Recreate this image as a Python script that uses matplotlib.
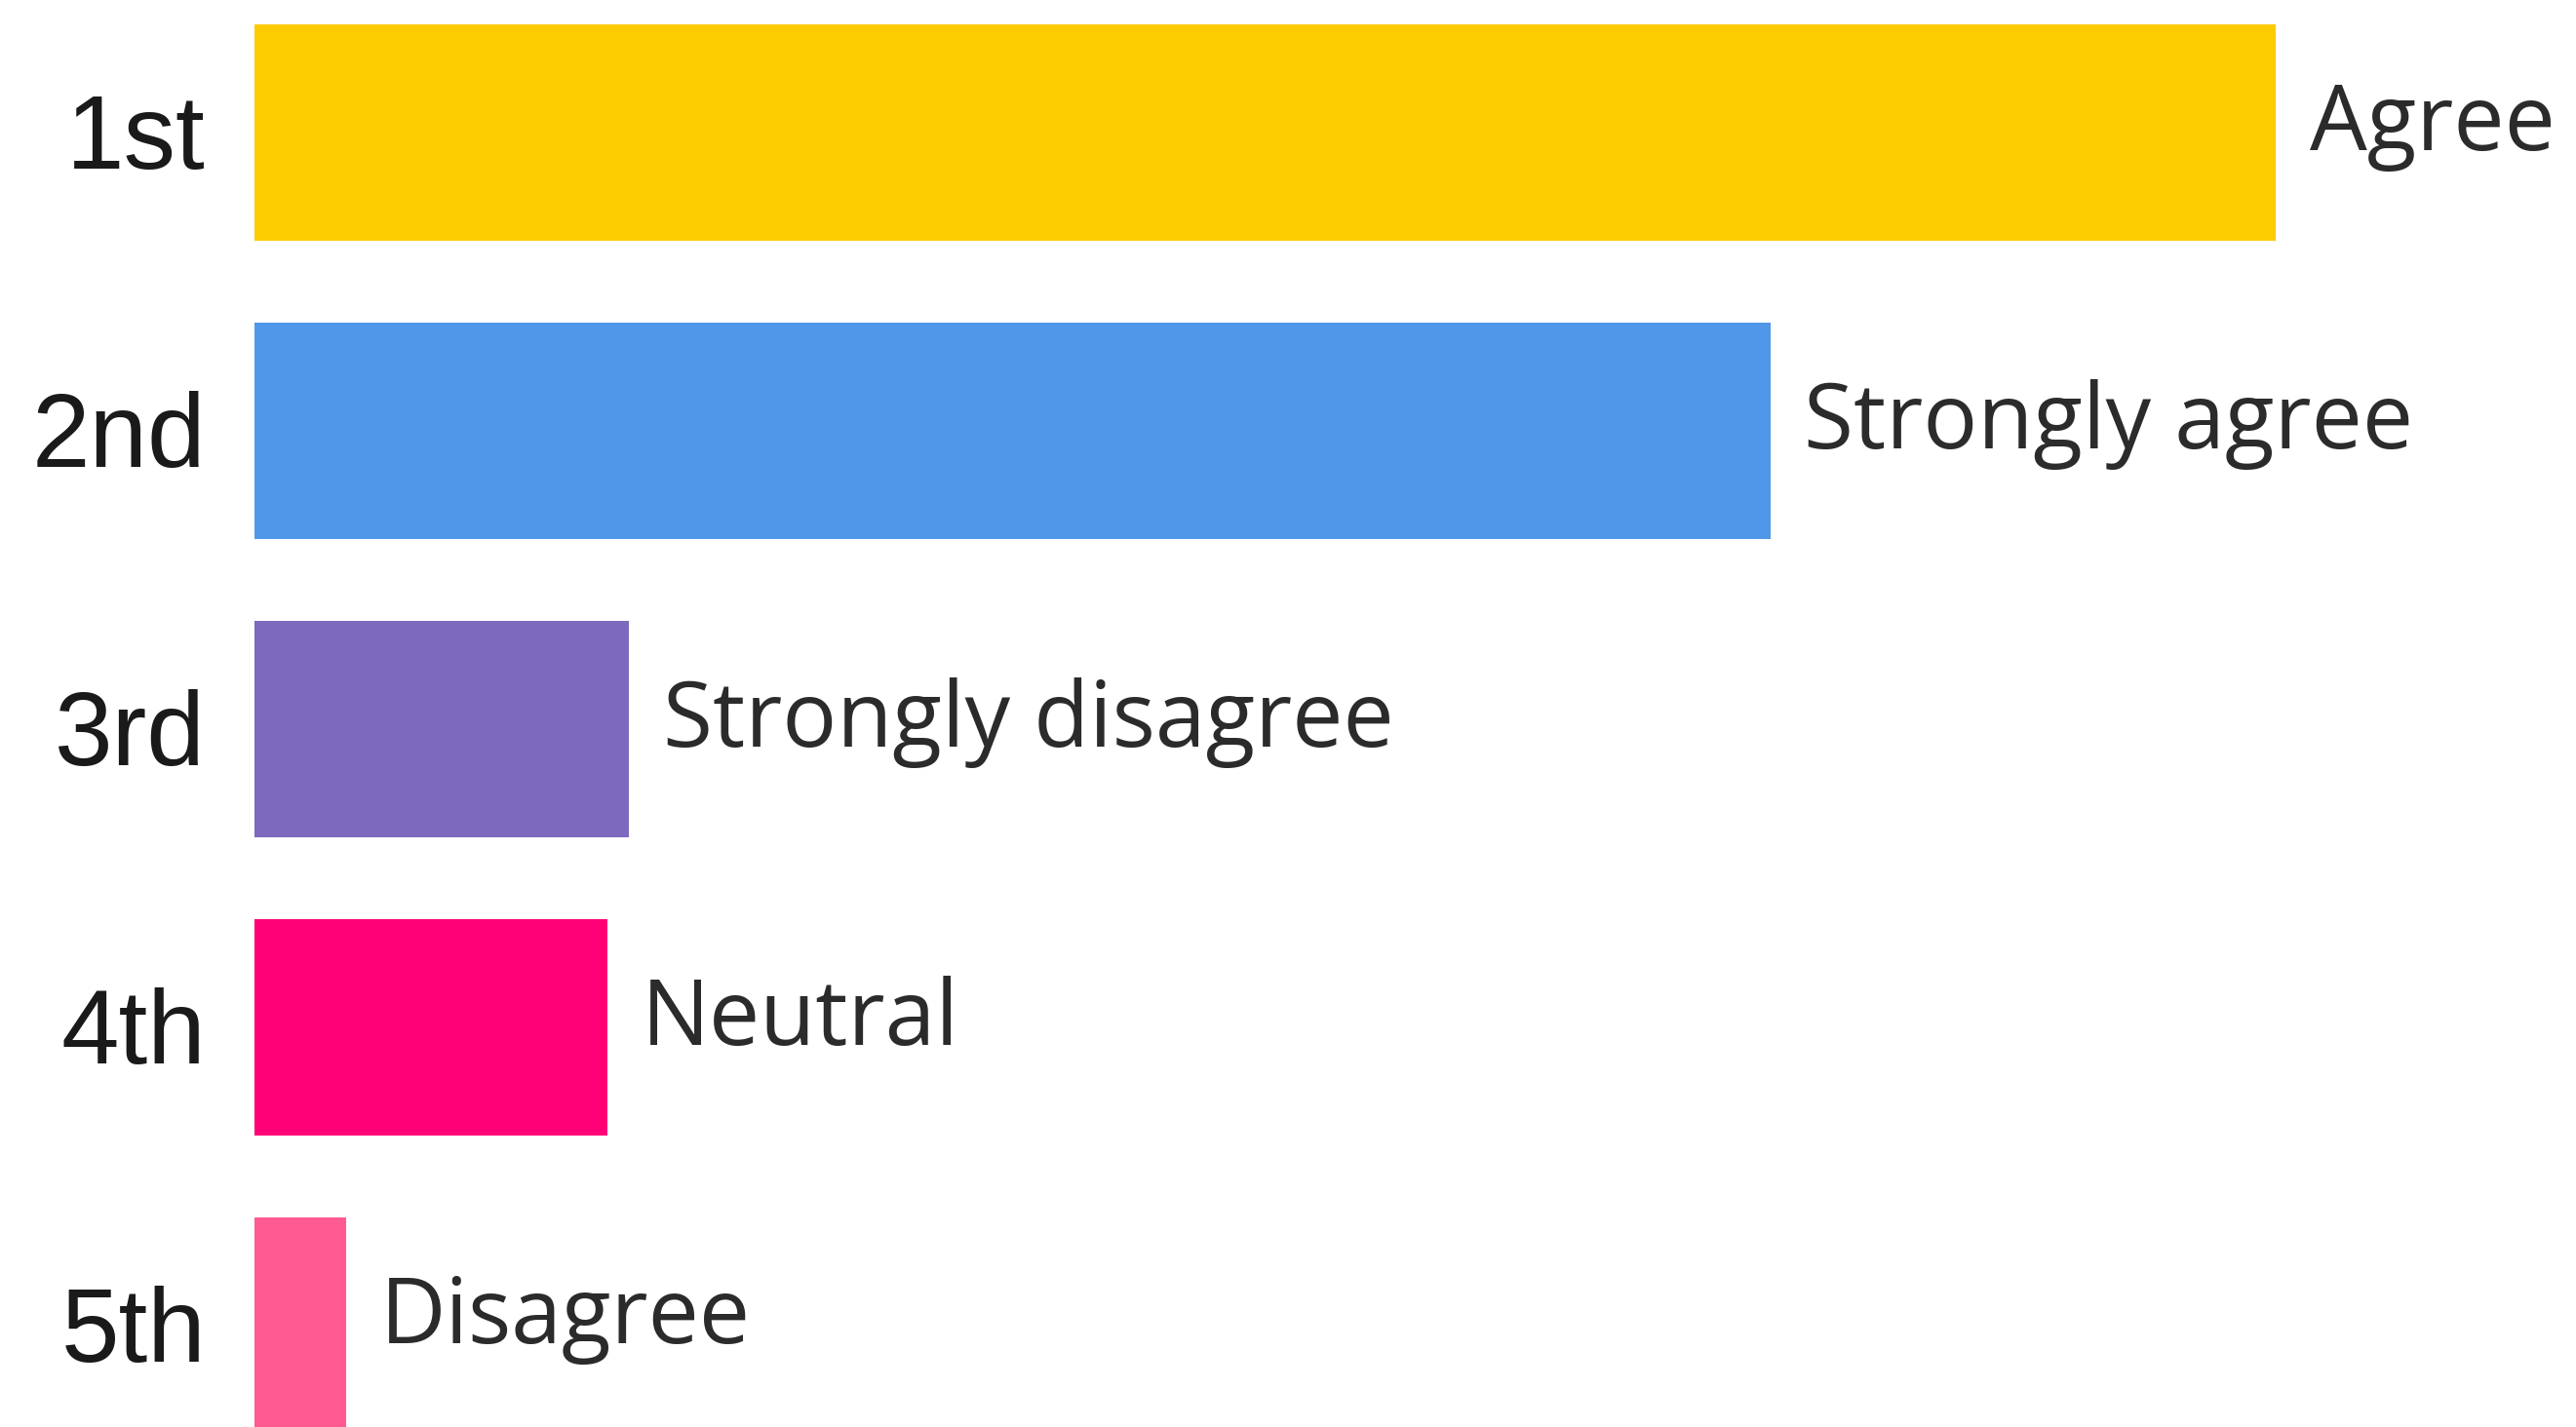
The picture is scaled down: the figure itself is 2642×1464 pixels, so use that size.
import numpy as np
import matplotlib.pyplot as plt

ranks = ['1st', '2nd', '3rd', '4th', '5th']
answers = ['Agree', 'Strongly agree', 'Strongly disagree', 'Neutral', 'Disagree']
shares = [46.4, 34.8, 8.6, 8.1, 2.1]
colors = ['#FCCB00', '#5097EA', '#7D69BD', '#FF0077', '#FF5A92']

W, H, DPI = 2642, 1464, 100
fig = plt.figure(figsize=(W / DPI, H / DPI), dpi=DPI)
fig.patch.set_facecolor('white')

# axes starts where bars start, spans to the right edge
left_px = 261
ax = fig.add_axes([left_px / W, 0, 1 - left_px / W, 1])

y = np.arange(len(ranks))
ax.barh(y, shares, height=0.725, color=colors, edgecolor='none')

# pixel-based axis limits (pitch ~306 px, first bar centre at 136 px)
pitch = 306.0
top_c = 136.0
ax.set_ylim((H - top_c) / pitch, -top_c / pitch)
ax.set_xlim(0, 2381 / 2073 * shares[0])
ax.axis('off')

for yi, (r, a, v) in enumerate(zip(ranks, answers, shares)):
    ax.annotate(a, xy=(v, yi + 0.06), xytext=(25, 0), textcoords='offset points',
                ha='left', va='baseline', fontsize=67, color='#2b2b2b',
                family='Open Sans', annotation_clip=False)
    ax.annotate(r, xy=(0, yi + 0.12), xytext=(-36, 0), textcoords='offset points',
                ha='right', va='baseline', fontsize=77, color='#1a1a1a',
                family='Liberation Sans', annotation_clip=False)

fig.savefig('out.png', dpi=DPI)
